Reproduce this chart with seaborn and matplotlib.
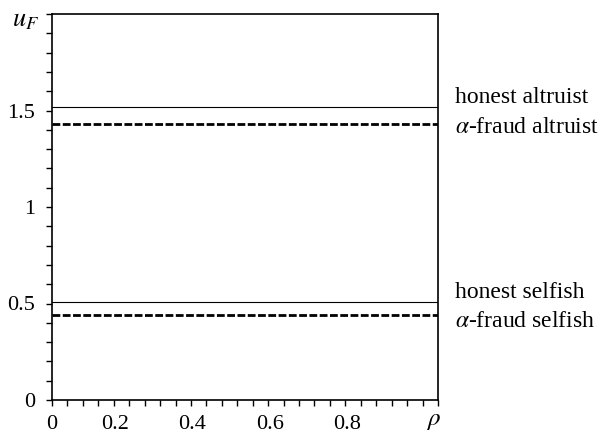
import matplotlib
matplotlib.use("Agg")
import matplotlib.pyplot as plt
import numpy as np
import pandas as pd
import seaborn as sns
from matplotlib.ticker import MultipleLocator

# data
rho = [0.0, 1.0]
honest_altruist = [1.52, 1.52]
fraud_altruist = [1.43, 1.43]
honest_selfish = [0.51, 0.51]
fraud_selfish = [0.44, 0.44]
series_names = ["honest altruist", r"$\alpha$-fraud altruist",
                "honest selfish", r"$\alpha$-fraud selfish"]
label_y = [1.54, 1.385, 0.53, 0.38]
xtick_vals = [0.2, 0.4, 0.6, 0.8]
xtick_labels = ["0.2", "0.4", "0.6", "0.8"]
ytick_vals = [0, 0.5, 1, 1.5]
ytick_labels = ["0", "0.5", "1", "1.5"]

sns.set_theme(style="ticks")
plt.rcParams["font.family"] = ["Liberation Serif", "DejaVu Serif"]
plt.rcParams["mathtext.fontset"] = "stix"
plt.rcParams["text.color"] = "black"

df = pd.DataFrame({
    "rho": rho * 4,
    "u": honest_altruist + fraud_altruist + honest_selfish + fraud_selfish,
    "series": [n for n in series_names for _ in rho],
})

fig = plt.figure(figsize=(6.03, 4.33), dpi=100)
ax = fig.add_axes([52 / 603, 33 / 433, 386 / 603, 386 / 433])

for name, lw, ls in zip(series_names, [0.8, 2.0, 0.8, 2.0],
                        ["-", (0, (2.8, 0.9)), "-", (0, (2.8, 0.9))]):
    sns.lineplot(data=df[df.series == name], x="rho", y="u", ax=ax,
                 color="black", lw=lw, linestyle=ls, legend=False)

ax.set_xlim(0, 1)
ax.set_ylim(0, 2)
ax.set_xlabel("")
ax.set_ylabel("")
for s in ax.spines.values():
    s.set_linewidth(1.2)
    s.set_color("black")

ax.xaxis.set_minor_locator(MultipleLocator(0.04))
ax.yaxis.set_minor_locator(MultipleLocator(0.1))
ax.tick_params(which="both", direction="out", length=4, width=1.0,
               colors="black", labelsize=16, labelcolor="black")
ax.tick_params(axis="x", which="major", pad=7)
ax.set_xticks([0] + xtick_vals)
ax.set_xticklabels(["0"] + xtick_labels)
for lab in ax.get_xticklabels()[1:]:
    lab.set_horizontalalignment("right")
ax.set_yticks(ytick_vals)
ax.set_yticklabels(ytick_labels)
ax.tick_params(axis="y", which="major", pad=8)

for name, y in zip(series_names, label_y):
    ax.text(1.045, y, name, transform=ax.transData, fontsize=17,
            va="baseline", ha="left", clip_on=False, color="black")

fig.text(26 / 603, 1 - 21 / 433, r"$u_F$", fontsize=19, ha="center", va="center")
fig.text(433 / 603, 1 - 421 / 433, r"$\rho$", fontsize=18, ha="center", va="center")

fig.savefig("out.png", dpi=100)
